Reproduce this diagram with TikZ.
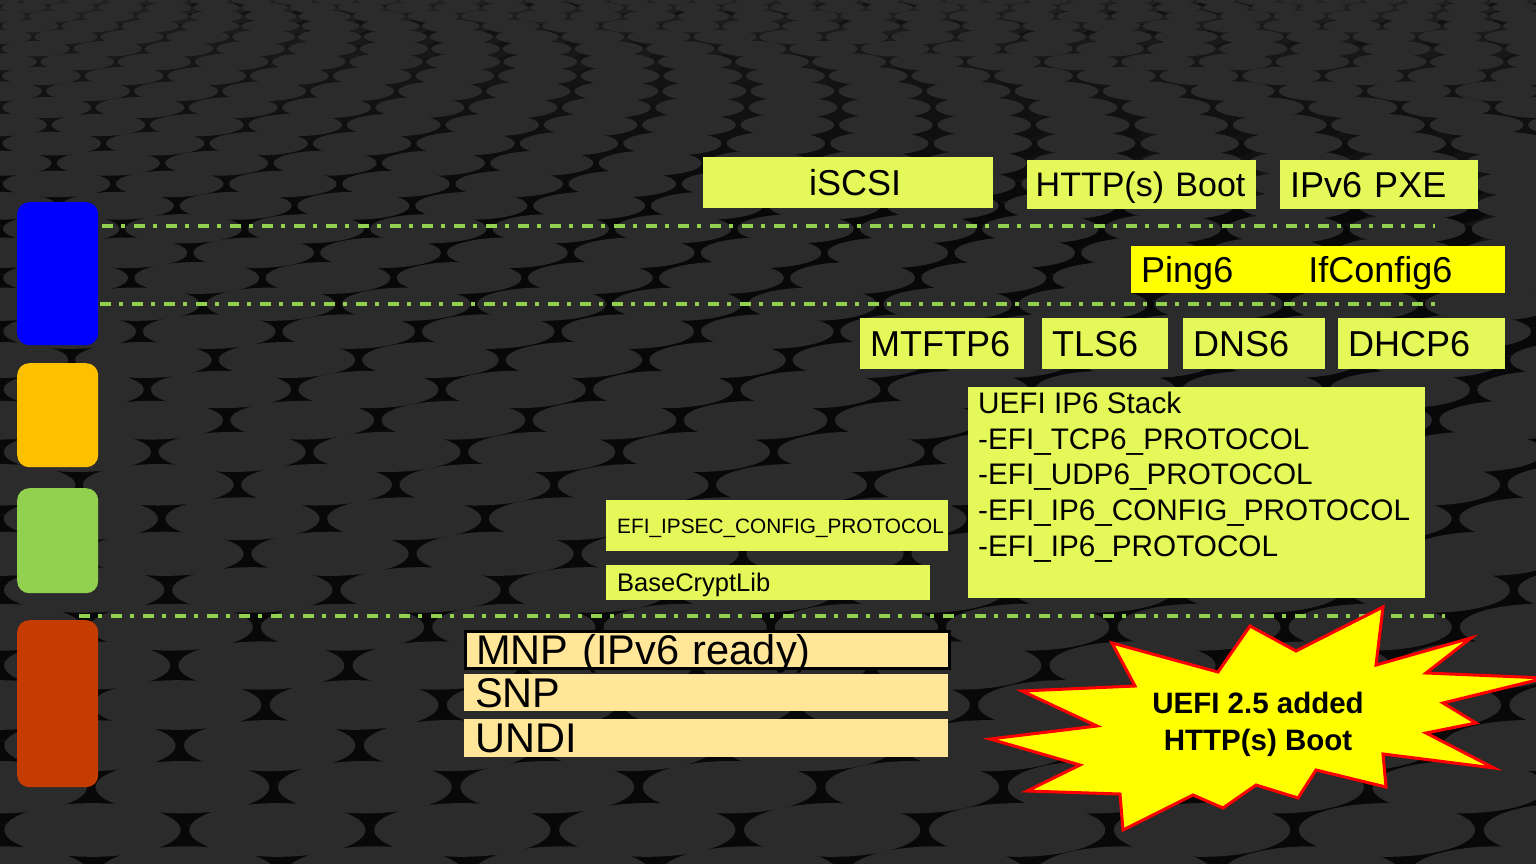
\documentclass[tikz,border=0pt]{standalone}
\usepackage{fontspec}
\setmainfont{Liberation Sans}
\definecolor{backdrop}{HTML}{121212}
\definecolor{disctop}{HTML}{2B2B2B}
\definecolor{discshadow}{HTML}{080808}
\definecolor{boxgreen}{HTML}{E4F85A}
\definecolor{pingyellow}{HTML}{FFFF00}
\definecolor{layerorange}{HTML}{FFE699}
\definecolor{sepgreen}{HTML}{92D050}
\definecolor{barblue}{HTML}{0000FF}
\definecolor{barorange}{HTML}{FFC000}
\definecolor{bargreen}{HTML}{92D050}
\definecolor{barrust}{HTML}{C43C00}

\begin{document}
\begin{tikzpicture}[x=1pt,y=-1pt]
   \useasboundingbox (0,0) rectangle (1536,864);
   \clip (0,0) rectangle (1536,864);
   % backdrop of discs
   \fill[backdrop] (0,0) rectangle (1536,864);
   \foreach \r in {0,...,35} {
       \pgfmathsetmacro\ry{0.62*(7+1.1*\r)}
       \pgfmathsetmacro\rx{(4.6-0.04*\r)*\ry}
       \pgfmathsetmacro\dx{2.1*\rx}
       \pgfmathsetmacro\yy{7*\r+0.55*\r*\r}
       \pgfmathsetmacro\off{mod(\r,2)*0.5*\dx}
       \pgfmathtruncatemacro\ncol{1536/\dx+1}
       \pgfmathtruncatemacro\mix{min(100,30+5*\r)}
       \foreach \c in {-1,...,\ncol} {
           \fill[discshadow!\mix!disctop] (\c*\dx+\off+0.3*\rx,\yy+0.45*\ry) ellipse [x radius=\rx pt, y radius=\ry pt];
           \fill[disctop] (\c*\dx+\off,\yy) ellipse [x radius=\rx pt, y radius=\ry pt];
       }
   }
   \tikzstyle{bar}=[anchor=north west, minimum width=81, rounded corners=12, inner sep=0pt]
   \tikzstyle{sepline}=[sepgreen, line width=3.3pt, dash pattern=on 11pt off 8pt on 4pt off 9pt]
   \tikzstyle{proto}=[fill=boxgreen, anchor=north west, inner xsep=10pt, inner ysep=0pt, align=left, text height=26pt, text depth=0pt, font=\fontsize{36}{43}\selectfont]
   \tikzstyle{layer}=[fill=layerorange, anchor=north west, inner xsep=11pt, inner ysep=0pt, align=left, text width=462, text height=33pt, text depth=4pt, font=\fontsize{41.5}{49}\selectfont]
   % colour bars
   \node[bar, fill=barblue, minimum height=143] (appbar) at (17,202) {};
   \node[bar, fill=barorange, minimum height=104] (toolbar) at (17,363) {};
   \node[bar, fill=bargreen, minimum height=105] (stackbar) at (17,488) {};
   \node[bar, fill=barrust, minimum height=167] (driverbar) at (17,620) {};
   % separators
   \coordinate (sepAl) at (102,226); \coordinate (sepAr) at (1435,226);
   \coordinate (sepBl) at (100,304); \coordinate (sepBr) at (1440,304);
   \coordinate (sepCl) at (79,616);  \coordinate (sepCr) at (1445,616);
   \draw[sepline] (sepAl) -- (sepAr);
   \draw[sepline] (sepBl) -- (sepBr);
   \draw[sepline] (sepCl) -- (sepCr);
   % applications
   \node[proto, text width=270, minimum height=51, align=center] (iscsi) at (703,157) {\hspace*{14pt}iSCSI};
   \node[proto, inner xsep=8.5pt, text width=212, minimum height=49, font=\fontsize{34}{41}\selectfont, text height=24.5pt] (httpboot) at (1027,160) {HTTP(s)~Boot};
   \node[proto, text width=178, minimum height=49] (pxe) at (1280,160) {IPv6 PXE};
   % shell tools
   \node[proto, fill=pingyellow, text width=354, minimum height=47] (ping) at (1131,246) {Ping6\hspace{75pt}IfConfig6};
   % protocols
   \node[proto, text width=144, minimum height=51] (mtftp) at (860,318) {MTFTP6};
   \node[proto, text width=106, minimum height=51] (tls) at (1042,318) {TLS6};
   \node[proto, text width=122, minimum height=51] (dns) at (1183,318) {DNS6};
   \node[proto, text width=147, minimum height=51] (dhcp) at (1338,318) {DHCP6};
   \node[fill=boxgreen, anchor=north west, minimum width=457, minimum height=211, inner sep=0pt] (stack) at (968,387) {};
   \node[anchor=north west, inner sep=0pt, align=left, font=\fontsize{29.7}{35.6}\selectfont] (stacklist) at ([xshift=10pt,yshift=-5pt]stack.north west)
       {UEFI IP6 Stack\\-EFI\_TCP6\_PROTOCOL\\-EFI\_UDP6\_PROTOCOL\\-EFI\_IP6\_CONFIG\_PROTOCOL\\-EFI\_IP6\_PROTOCOL};
   \node[proto, inner xsep=11pt, text width=320, minimum height=51, text height=15pt, font=\fontsize{20.8}{25}\selectfont] (ipsec) at (606,500) {EFI\_IPSEC\_CONFIG\_PROTOCOL};
   \node[proto, inner xsep=11pt, text width=302, minimum height=35, text height=18pt, font=\fontsize{25.5}{30}\selectfont] (crypt) at (606,565) {BaseCryptLib};
   % network drivers
   \node[layer, draw=black, line width=2.5pt] (mnp) at (464,630) {MNP (IPv6 ready)};
   \node[layer] (snp) at (464,674) {SNP};
   \node[layer, minimum height=38] (undi) at (464,719) {UNDI};
   % burst
   \draw[fill=pingyellow, draw=red, line width=3pt]
       (990,739) -- (1097,726) -- (1022,691) -- (1135,686) -- (1112,643) -- (1218,672) -- (1250,626)
       -- (1296,651) -- (1383,607) -- (1376,665) -- (1471,638) -- (1426,673) -- (1545,678) -- (1443,703)
       -- (1476,723) -- (1426,733) -- (1494,768) -- (1383,754) -- (1386,787) -- (1316,770) -- (1298,798)
       -- (1256,785) -- (1223,808) -- (1193,795) -- (1123,830) -- (1120,794) -- (1027,791) -- (1080,765) -- cycle;
   \node[align=center, font=\fontsize{29.5}{37}\selectfont\bfseries] (burst) at (1258,724) {UEFI 2.5 added\\HTTP(s) Boot};
\end{tikzpicture}
\end{document}
